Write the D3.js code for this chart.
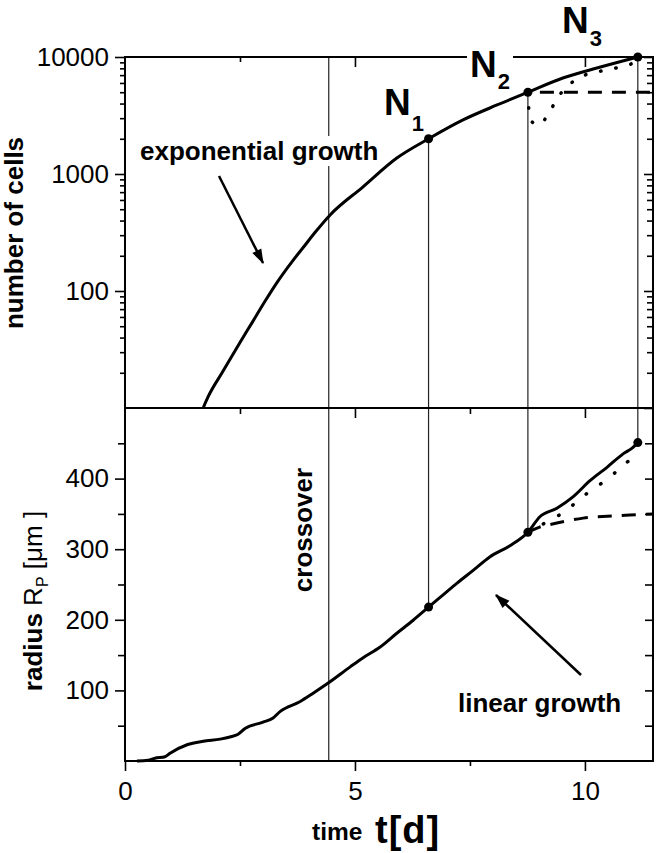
<!DOCTYPE html>
<html><head><meta charset="utf-8">
<script src="https://cdn.jsdelivr.net/npm/d3@7"></script>
<style>
body{margin:0;background:#fff;}
svg{display:block;font-family:"Liberation Sans",Arial,sans-serif;}
</style></head>
<body><svg id="c" width="657" height="853"></svg>
<script>
// ---- data ----
const tUp = [1.70,1.80,2.11,2.50,2.78,3.04,3.30,3.65,3.87,4.13,4.46,5.17,5.91,6.60,7.35,8.09,8.76,9.52,10.26,11.15];
const nUp = [10,12.3,20,36.3,55,81.3,117.5,182,234,316,447,774,1370,2000,2900,3890,5000,6620,8050,10000];
const tUpDash = [8.76,11.48];
const nUpDash = [5000,5000];
const tUpDot = [8.76,8.78,8.80,9.0,9.24,9.43,9.7,10.0,10.35,10.67,11.0,11.2];
const nUpDot = [5000,4120,2950,2620,3450,4640,5990,7010,7590,8050,8710,9600];

const tLo = [0.26,0.5,0.65,0.87,0.98,1.35,1.70,2.07,2.28,2.46,2.61,3.0,3.22,3.37,3.80,4.09,4.41,4.89,5.17,5.54,5.91,6.26,6.60,6.91,7.22,7.57,7.93,8.37,8.76,9.02,9.39,9.74,10.11,10.48,10.83,11.04,11.15];
const rLo = [0,1,4,6,11,23,28,31,34,38,46,55,61,70,84,96,110,133,146,161,181,199,218,235,252,270,289,305,324,346,358,374,397,416,435,444,451];
const tLoDash = [8.76,9.0,9.39,9.96,10.6,11.48];
const rLoDash = [324,331,337,344,347,350];
const tLoDot = [8.76,9.1,9.6,9.9,10.54,10.87,11.2];
const rLoDot = [324,336,355,372,402,421,436];

const markT = [6.6,8.76,11.15];
const markN = [2000,5000,10000];
const markR = [218,324,451];
const markNames = ["1","2","3"];
const crossoverT = 4.43;

const xMajor = [0,5,10];
const xMinor = [2.5,7.5];
const nMajor = [100,1000,10000];
const nMinor = [20,30,40,50,60,70,80,90,200,300,400,500,600,700,800,900,2000,3000,4000,5000,6000,7000,8000,9000];
const rMajor = [100,200,300,400];
const rMinor = [50,150,250,350,450];

// ---- layout ----
const L=125, R=653, T=57, M=408, B=761;
const FS=26;
const svg = d3.select("#c");
const x = d3.scaleLinear().domain([0,11.48]).range([L,R]);
const yU = d3.scaleLog().domain([10,10000]).range([M,T]);
const yL = d3.scaleLinear().domain([0,500]).range([B,M]);

function styleAxis(g){ g.select(".domain").remove(); g.selectAll("line").attr("stroke","#000").attr("stroke-width",1.6); g.selectAll("text").attr("fill","#000").attr("font-size",FS).attr("font-family","Liberation Sans, Arial, sans-serif"); }

// upper panel axes
svg.append("g").attr("transform",`translate(${L},0)`).call(d3.axisLeft(yU).tickValues(nMajor).tickSize(10).tickPadding(6).tickFormat(d3.format("d"))).call(styleAxis);
svg.append("g").attr("transform",`translate(${L},0)`).call(d3.axisLeft(yU).tickValues(nMinor).tickSize(5).tickFormat("")).call(styleAxis);
svg.append("g").attr("transform",`translate(${R},0)`).call(d3.axisLeft(yU).tickValues(nMajor.concat([10])).tickSize(9).tickFormat("")).call(styleAxis);
svg.append("g").attr("transform",`translate(${R},0)`).call(d3.axisLeft(yU).tickValues(nMinor).tickSize(6).tickFormat("")).call(styleAxis);
svg.append("g").attr("transform",`translate(0,${T})`).call(d3.axisBottom(x).tickValues(xMajor.slice(1)).tickSize(10).tickFormat("")).call(styleAxis);
svg.append("g").attr("transform",`translate(0,${T})`).call(d3.axisBottom(x).tickValues(xMinor).tickSize(5).tickFormat("")).call(styleAxis);

// lower panel axes
svg.append("g").attr("transform",`translate(0,${M})`).call(d3.axisBottom(x).tickValues(xMajor.slice(1)).tickSize(10).tickFormat("")).call(styleAxis);
svg.append("g").attr("transform",`translate(0,${M})`).call(d3.axisBottom(x).tickValues(xMinor).tickSize(6).tickFormat("")).call(styleAxis);
svg.append("g").attr("transform",`translate(0,${B})`).call(d3.axisBottom(x).tickValues(xMajor).tickSize(10).tickPadding(11).tickFormat(d3.format("d"))).call(styleAxis);
svg.append("g").attr("transform",`translate(0,${B})`).call(d3.axisBottom(x).tickValues(xMinor).tickSize(5).tickFormat("")).call(styleAxis);
svg.append("g").attr("transform",`translate(${L},0)`).call(d3.axisLeft(yL).tickValues(rMajor).tickSize(10).tickPadding(6).tickFormat(d3.format("d"))).call(styleAxis);
svg.append("g").attr("transform",`translate(${L},0)`).call(d3.axisLeft(yL).tickValues(rMinor).tickSize(7).tickFormat("")).call(styleAxis);
svg.append("g").attr("transform",`translate(${R},0)`).call(d3.axisLeft(yL).tickValues(rMajor.concat(rMinor)).tickSize(8).tickFormat("")).call(styleAxis);

// vertical lines
const vcol="#222";
svg.append("line").attr("x1",x(crossoverT)).attr("x2",x(crossoverT)).attr("y1",T).attr("y2",B).attr("stroke",vcol).attr("stroke-width",1.2);
markT.forEach((t,i)=>{
  svg.append("line").attr("x1",x(t)).attr("x2",x(t)).attr("y1",yU(markN[i])).attr("y2",yL(markR[i])).attr("stroke",vcol).attr("stroke-width",1.2);
});

// frames
svg.append("rect").attr("x",L).attr("y",T).attr("width",R-L).attr("height",M-T).attr("fill","none").attr("stroke","#000").attr("stroke-width",2);
svg.append("rect").attr("x",L).attr("y",M).attr("width",R-L).attr("height",B-M).attr("fill","none").attr("stroke","#000").attr("stroke-width",2);

// curves
const lineU = d3.line().x(d=>x(d[0])).y(d=>yU(d[1])).curve(d3.curveMonotoneX);
const lineL = d3.line().x(d=>x(d[0])).y(d=>yL(d[1])).curve(d3.curveMonotoneX);
const lineUraw = d3.line().x(d=>x(d[0])).y(d=>yU(d[1])).curve(d3.curveCatmullRom);
const lineLraw = d3.line().x(d=>x(d[0])).y(d=>yL(d[1])).curve(d3.curveCatmullRom);
const zip=(a,b)=>a.map((v,i)=>[v,b[i]]);

svg.append("path").attr("d",lineU(zip(tUpDash,nUpDash))).attr("fill","none").attr("stroke","#000").attr("stroke-width",3).attr("stroke-dasharray","14,10").attr("stroke-dashoffset",-12);
svg.append("path").attr("d",lineUraw(zip(tUpDot,nUpDot))).attr("fill","none").attr("stroke","#000").attr("stroke-width",3.5).attr("stroke-linecap","round").attr("stroke-dasharray","0.5,15");
svg.append("path").attr("d",lineU(zip(tUp,nUp))).attr("fill","none").attr("stroke","#000").attr("stroke-width",3);

svg.append("path").attr("d",lineLraw(zip(tLoDash,rLoDash))).attr("fill","none").attr("stroke","#000").attr("stroke-width",3).attr("stroke-dasharray","14,10");
svg.append("path").attr("d",lineLraw(zip(tLoDot,rLoDot))).attr("fill","none").attr("stroke","#000").attr("stroke-width",3.5).attr("stroke-linecap","round").attr("stroke-dasharray","0.5,17");
svg.append("path").attr("d",lineL(zip(tLo,rLo))).attr("fill","none").attr("stroke","#000").attr("stroke-width",3);

// markers
markT.forEach((t,i)=>{
  svg.append("circle").attr("cx",x(t)).attr("cy",yU(markN[i])).attr("r",4.5).attr("fill","#000");
  svg.append("circle").attr("cx",x(t)).attr("cy",yL(markR[i])).attr("r",4.5).attr("fill","#000");
});

// arrows
const defs=svg.append("defs");
defs.append("marker").attr("id","ah").attr("viewBox","0 0 12 10").attr("refX",11).attr("refY",5)
  .attr("markerWidth",6.5).attr("markerHeight",5).attr("markerUnits","strokeWidth").attr("orient","auto")
  .append("path").attr("d","M0,1 L12,5 L0,9 Z").attr("fill","#000");
svg.append("line").attr("x1",219).attr("y1",176).attr("x2",263).attr("y2",263).attr("stroke","#000").attr("stroke-width",2.5).attr("marker-end","url(#ah)");
svg.append("line").attr("x1",581).attr("y1",675).attr("x2",496).attr("y2",595).attr("stroke","#000").attr("stroke-width",2.5).attr("marker-end","url(#ah)");

// text with white background
function bgText(sel){
  const bb=sel.node().getBBox();
  sel.node().parentNode.insertBefore(
    svg.append("rect").attr("x",bb.x-2).attr("y",bb.y).attr("width",bb.width+4).attr("height",bb.height).attr("fill","#fff").node(), sel.node());
}
const t1=svg.append("text").attr("x",140).attr("y",160).attr("font-size",FS).attr("font-weight","bold").text("exponential growth");
bgText(t1);
svg.append("text").attr("x",458).attr("y",712).attr("font-size",FS).attr("font-weight","bold").text("linear growth");
svg.append("text").attr("transform","translate(312,530) rotate(-90)").attr("text-anchor","middle").attr("font-size",FS).attr("font-weight","bold").text("crossover");

// N labels
const nPos=[[384,115,131],[470,77,89],[562,33,46]];
markNames.forEach((s,i)=>{
  const g=svg.append("g");
  const tx=g.append("text").attr("x",nPos[i][0]).attr("y",nPos[i][1]).attr("font-size",37).attr("font-weight","bold").text("N");
  const w=tx.node().getComputedTextLength();
  g.append("text").attr("x",nPos[i][0]+w+1).attr("y",nPos[i][2]).attr("font-size",22).attr("font-weight","bold").text(s);
  if(i===1){ const bb=g.node().getBBox(); g.insert("rect",":first-child").attr("x",bb.x-3).attr("y",bb.y+4).attr("width",bb.width+6).attr("height",bb.height-4).attr("fill","#fff"); }
});

// axis titles
svg.append("text").attr("transform","translate(23,233) rotate(-90)").attr("text-anchor","middle").attr("font-size",FS).attr("font-weight","bold").text("number of cells");
const rt=svg.append("text").attr("transform","translate(42,601) rotate(-90)").attr("text-anchor","middle").attr("font-size",FS);
rt.append("tspan").attr("font-weight","bold").text("radius ");
rt.append("tspan").text("R");
rt.append("tspan").attr("font-size",16).attr("dy",6).text("P");
rt.append("tspan").attr("dy",-6).text(" [μm ]");

svg.append("text").attr("x",312).attr("y",840).attr("font-size",24.5).attr("font-weight","bold").text("time");
svg.append("text").attr("x",375).attr("y",843).attr("font-size",38).attr("font-weight","bold").attr("letter-spacing",1).text("t[d]");
</script></body></html>
